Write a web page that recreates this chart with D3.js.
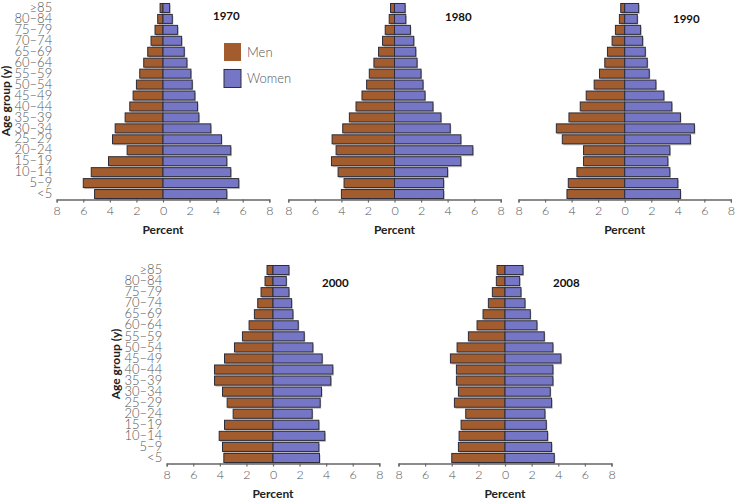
<!DOCTYPE html>
<html>
<head>
<meta charset="utf-8">
<script src="https://cdn.jsdelivr.net/npm/d3@7/dist/d3.min.js"></script>
<style>
  html, body { margin: 0; padding: 0; background: #fff; }
  svg { display: block; }
  text { font-family: Lato, "Open Sans", sans-serif; }
</style>
</head>
<body>
<svg id="chart" width="736" height="502"></svg>
<script>
// Age groups, from youngest to oldest
const ageGroups = ["<5", "5–9", "10–14", "15–19", "20–24", "25–29", "30–34", "35–39", "40–44",
  "45–49", "50–54", "55–59", "60–64", "65–69", "70–74", "75–79", "80–84", "≥85"];

// Percent of population, youngest to oldest
const men1970   = [5.15, 6.0, 5.4, 4.1, 2.7, 3.8, 3.6, 2.85, 2.5, 2.25, 2.0, 1.75, 1.45, 1.15, 0.9, 0.6, 0.4, 0.22];
const women1970 = [4.8, 5.7, 5.1, 4.8, 5.1, 4.4, 3.6, 2.7, 2.6, 2.4, 2.2, 2.1, 1.8, 1.6, 1.4, 1.1, 0.7, 0.5];
const men1980   = [4.0, 3.8, 4.25, 4.75, 4.4, 4.7, 3.9, 3.4, 2.9, 2.45, 2.1, 1.9, 1.55, 1.2, 0.9, 0.7, 0.4, 0.3];
const women1980 = [3.7, 3.7, 4.0, 5.0, 5.9, 5.0, 4.2, 3.5, 2.9, 2.3, 2.15, 2.0, 1.7, 1.6, 1.45, 1.2, 0.85, 0.8];
const men1990   = [4.35, 4.25, 3.6, 3.1, 3.1, 4.7, 5.15, 4.2, 3.35, 2.9, 2.3, 1.9, 1.5, 1.3, 0.95, 0.7, 0.4, 0.3];
const women1990 = [4.2, 4.0, 3.4, 3.25, 3.4, 4.95, 5.25, 4.2, 3.55, 2.95, 2.35, 1.85, 1.7, 1.55, 1.35, 1.2, 0.95, 1.05];
const men2000   = [3.7, 3.8, 4.05, 3.65, 3.0, 3.45, 3.8, 4.4, 4.4, 3.65, 2.9, 2.3, 1.8, 1.4, 1.15, 0.9, 0.6, 0.45];
const women2000 = [3.5, 3.45, 3.9, 3.45, 2.95, 3.55, 3.65, 4.35, 4.5, 3.7, 3.0, 2.35, 1.9, 1.5, 1.4, 1.2, 1.0, 1.2];
const men2008   = [4.0, 3.5, 3.45, 3.3, 2.95, 3.8, 3.5, 3.65, 3.65, 4.1, 3.6, 2.75, 2.1, 1.65, 1.25, 0.95, 0.65, 0.6];
const women2008 = [3.7, 3.5, 3.2, 3.1, 3.0, 3.5, 3.4, 3.6, 3.6, 4.2, 3.6, 2.95, 2.4, 1.9, 1.5, 1.2, 1.1, 1.35];

const tickValues = [-8, -6, -4, -2, 0, 2, 4, 6, 8];
const seriesNames = ["Men", "Women"];

const panels = [
  { year: "1970", men: men1970, women: women1970, x0: 56.7,  x1: 269.3, y0: 2.5,   y1: 199.5, labels: true,  yearX: 213, yearY: 20 },
  { year: "1980", men: men1980, women: women1980, x0: 288.3, x1: 500.7, y0: 2.5,   y1: 199.5, labels: false, yearX: 445, yearY: 21 },
  { year: "1990", men: men1990, women: women1990, x0: 518.5, x1: 730.9, y0: 2.5,   y1: 199.5, labels: false, yearX: 673, yearY: 23 },
  { year: "2000", men: men2000, women: women2000, x0: 166.7, x1: 379.3, y0: 264.5, y1: 463.5, labels: true,  yearX: 322, yearY: 287 },
  { year: "2008", men: men2008, women: women2008, x0: 398.5, x1: 611.5, y0: 264.5, y1: 463.5, labels: false, yearX: 553, yearY: 287 }
];

const colMen = "#a35c2e", colWomen = "#7676c6", colStroke = "#2c2c3a", colShadow = "#bdbdbd";
const svg = d3.select("#chart");

panels.forEach(p => {
  const g = svg.append("g");
  const x = d3.scaleLinear().domain([-8, 8]).range([p.x0, p.x1]);
  const y = d3.scaleBand().domain(ageGroups.slice().reverse()).range([p.y0, p.y1])
    .paddingInner(0.18).paddingOuter(0.09);
  const rows = ageGroups.map((a, i) => ({ age: a, men: p.men[i], women: p.women[i] }));

  // shadows
  const sh = g.append("g");
  rows.forEach(d => {
    sh.append("rect").attr("x", x(-d.men) + 1).attr("y", y(d.age) + 1.5)
      .attr("width", x(d.women) - x(-d.men)).attr("height", y.bandwidth())
      .attr("fill", colShadow);
  });
  // men bars
  g.append("g").selectAll("rect").data(rows).join("rect")
    .attr("x", d => x(-d.men)).attr("y", d => y(d.age))
    .attr("width", d => x(0) - x(-d.men)).attr("height", y.bandwidth())
    .attr("fill", colMen).attr("stroke", colStroke).attr("stroke-width", 1);
  // women bars
  g.append("g").selectAll("rect").data(rows).join("rect")
    .attr("x", x(0)).attr("y", d => y(d.age))
    .attr("width", d => x(d.women) - x(0)).attr("height", y.bandwidth())
    .attr("fill", colWomen).attr("stroke", colStroke).attr("stroke-width", 1);

  // x axis
  const ax = g.append("g").attr("transform", `translate(0,${p.y1})`)
    .call(d3.axisBottom(x).tickValues(tickValues).tickFormat(v => Math.abs(v)).tickSize(3).tickPadding(4));
  ax.select(".domain").attr("stroke", "#666").attr("stroke-width", 1.3);
  ax.selectAll(".tick line").attr("stroke", "#666").attr("stroke-width", 1.2);
  ax.selectAll(".tick text").attr("fill", "#555").attr("font-size", 12.5)
    .attr("font-family", "Lato, sans-serif").attr("font-weight", 300);

  g.append("text").attr("x", x(0)).attr("y", p.y1 + 34).attr("text-anchor", "middle")
    .attr("font-size", 12).attr("font-weight", 700).attr("fill", "#222").text("Percent");

  g.append("text").attr("x", p.yearX).attr("y", p.yearY)
    .attr("font-size", 11.5).attr("font-weight", 700).attr("fill", "#111").text(p.year);

  if (p.labels) {
    const ay = g.append("g").attr("transform", `translate(${p.x0 - 4.5},0)`)
      .call(d3.axisLeft(y).tickSize(0).tickPadding(0));
    ay.select(".domain").remove();
    ay.selectAll(".tick text").attr("fill", "#555").attr("font-size", 13)
      .attr("font-family", "Lato, sans-serif").attr("font-weight", 300);
    const cy = (p.y0 + p.y1) / 2;
    g.append("text").attr("transform", `translate(${p.x0 - 46.5},${cy}) rotate(-90)`)
      .attr("text-anchor", "middle").attr("font-size", 12).attr("font-weight", 700)
      .attr("fill", "#222").text("Age group (y)");
  }
});

// legend
const leg = svg.append("g");
const legY = d3.scaleBand().domain(seriesNames).range([43, 88]).paddingInner(0.3);
leg.selectAll("rect").data(seriesNames).join("rect")
  .attr("x", 224).attr("y", d => legY(d)).attr("width", 17).attr("height", 18)
  .attr("fill", d => d === "Men" ? colMen : colWomen)
  .attr("stroke", d => d === "Men" ? "none" : colStroke).attr("stroke-width", 1);
leg.selectAll("text").data(seriesNames).join("text")
  .attr("x", 247).attr("y", d => legY(d) + 14).attr("font-size", 13)
  .attr("font-weight", 300).attr("fill", "#555").text(d => d);
</script>
</body>
</html>
